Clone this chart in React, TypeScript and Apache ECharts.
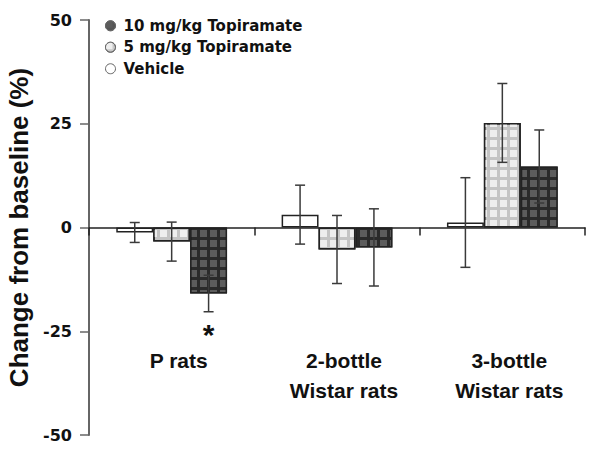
import React, { useEffect, useRef } from "react";
import * as echarts from "echarts";

const categories = ["P rats", "2-bottle\nWistar rats", "3-bottle\nWistar rats"];
const seriesNames = ["Vehicle", "5 mg/kg Topiramate", "10 mg/kg Topiramate"];
const vehicle = [-1.2, 3.1, 1.2];
const vehicleErr = [2.4, 7.1, 10.8];
const mg5 = [-3.4, -5.3, 25.2];
const mg5Err = [4.7, 8.2, 9.5];
const mg10 = [-15.9, -4.8, 14.7];
const mg10Err = [4.4, 9.3, 8.8];
const mg10Sig = ["*", "", ""];
const yTicks = [-50, -25, 0, 25, 50];

const FONT = "Liberation Sans, Arial, sans-serif";
const WIDE = "DejaVu Sans, Verdana, sans-serif";
const GAP = 0.33;

export default function App() {
  const ref = useRef<HTMLDivElement>(null);
  useEffect(() => {
    const chart = echarts.init(ref.current!, null, { renderer: "svg" });
    const values = [vehicle, mg5, mg10];
    const errs = [vehicleErr, mg5Err, mg10Err];
    const sigs = [["", "", ""], ["", "", ""], mg10Sig];
    const fills = [
      { color: "#ffffff", decal: undefined },
      {
        color: "#c4c4c4",
        decal: { symbol: "rect", symbolSize: 1, color: "#eeeeee", dashArrayX: [[7, 3]], dashArrayY: [7, 3], rotation: 0 },
      },
      {
        color: "#2a2a2a",
        decal: { symbol: "rect", symbolSize: 1, color: "#5c5c5c", dashArrayX: [[7, 3]], dashArrayY: [7, 3], rotation: 0 },
      },
    ];
    const legendColors = ["#ffffff", "#c8c8c8", "#555555"];

    const barSeries = seriesNames.map((name, i) => ({
      name,
      type: "bar",
      data: values[i],
      barGap: "0%",
      barCategoryGap: GAP * 100 + "%",
      itemStyle: {
        color: fills[i].color,
        borderColor: "#222",
        borderWidth: 1.5,
        decal: fills[i].decal,
      },
      z: 2,
    }));

    const errSeries = seriesNames.map((name, i) => ({
      name: name + " err",
      type: "custom",
      z: 5,
      silent: true,
      data: values[i].map((v, j) => [j, v, errs[i][j]]),
      renderItem: (params: any, api: any) => {
        const cat = api.value(0);
        const v = api.value(1);
        const e = api.value(2);
        const sig = sigs[i][cat];
        const band = api.size([1, 0])[0];
        const barW = (band * (1 - GAP)) / 3;
        const off = (i - 1) * barW;
        const hi = api.coord([cat, v + e]);
        const lo = api.coord([cat, v - e]);
        const x = hi[0] + off;
        const cap = 5;
        const st = { stroke: "#3a3a3a", lineWidth: 1.5 };
        const children: any[] = [
          { type: "line", shape: { x1: x, y1: hi[1], x2: x, y2: lo[1] }, style: st },
          { type: "line", shape: { x1: x - cap, y1: hi[1], x2: x + cap, y2: hi[1] }, style: st },
          { type: "line", shape: { x1: x - cap, y1: lo[1], x2: x + cap, y2: lo[1] }, style: st },
        ];
        if (sig) {
          children.push({
            type: "text",
            x: x,
            y: lo[1] + 8,
            style: {
              text: sig,
              fontSize: 30,
              fontWeight: "bold",
              fontFamily: FONT,
              fill: "#111",
              align: "center",
              verticalAlign: "top",
            },
          });
        }
        return { type: "group", children };
      },
    }));

    chart.setOption({
      animation: false,
      backgroundColor: "#ffffff",
      grid: { left: 89, right: 15, top: 20, bottom: 24, containLabel: false, outerBoundsMode: "none" },
      legend: {
        orient: "vertical",
        left: 105,
        top: 15,
        padding: 0,
        itemGap: 0,
        itemWidth: 10,
        itemHeight: 10,
        icon: "circle",
        data: [2, 1, 0].map((k) => ({
          name: seriesNames[k],
          itemStyle: { color: legendColors[k], borderColor: "#666", borderWidth: 1 },
        })),
        textStyle: {
          fontFamily: WIDE,
          fontWeight: "bold",
          fontSize: 15,
          lineHeight: 21.5,
          color: "#111",
          padding: [0, 0, 0, 3],
        },
      },
      xAxis: [
        {
          type: "category",
          data: categories,
          axisLine: { onZero: true, lineStyle: { color: "#222", width: 1.5 } },
          axisTick: { show: true, length: 8, lineStyle: { color: "#222", width: 1.5 } },
          axisLabel: { show: false },
          splitLine: { show: false },
        },
        {
          type: "category",
          data: categories,
          position: "bottom",
          offset: -90,
          axisLine: { show: false, onZero: false },
          axisTick: { show: false },
          axisLabel: {
            margin: 0,
            fontFamily: FONT,
            fontWeight: "bold",
            fontSize: 21,
            lineHeight: 30,
            color: "#111",
            verticalAlign: "top",
            padding: [0, 0, 0, 14],
          },
          splitLine: { show: false },
        },
      ],
      yAxis: {
        type: "value",
        min: yTicks[0],
        max: yTicks[yTicks.length - 1],
        interval: 25,
        name: "Change from baseline (%)",
        nameLocation: "middle",
        nameGap: 54,
        nameTextStyle: { fontFamily: FONT, fontWeight: "bold", fontSize: 26, color: "#111" },
        axisLine: { show: true, lineStyle: { color: "#666", width: 2 } },
        axisTick: { show: true, length: 9, lineStyle: { color: "#666", width: 1.5 } },
        axisLabel: { fontFamily: WIDE, fontWeight: "bold", fontSize: 16, color: "#111", margin: 17 },
        splitLine: { show: false },
      },
      series: [...barSeries, ...errSeries],
    } as any);
    return () => chart.dispose();
  }, []);
  return <div ref={ref} style={{ width: 600, height: 459, position: "absolute", left: 0, top: 0 }} />;
}
